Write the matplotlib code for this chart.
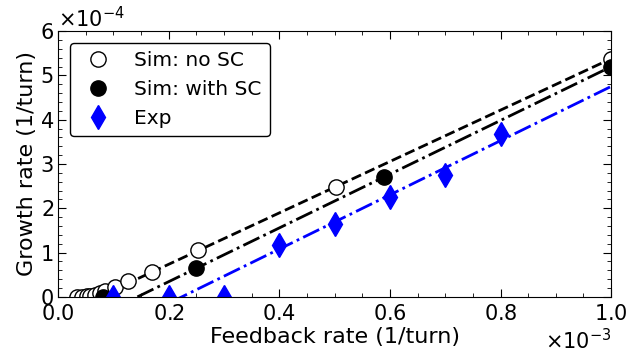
import numpy as np
import matplotlib
matplotlib.use("Agg")
import matplotlib.pyplot as plt
from matplotlib.ticker import MultipleLocator, ScalarFormatter

# Data (feedback rate in 1e-3 /turn, growth rate in 1e-4 /turn)
nosc_x = [0.034, 0.043, 0.052, 0.058, 0.067, 0.076, 0.085, 0.103, 0.127, 0.170, 0.253, 0.503, 1.0]
nosc_y = [0.0, 0.0, 0.01, 0.02, 0.05, 0.08, 0.14, 0.23, 0.35, 0.57, 1.05, 2.48, 5.38]
sc_x = [0.081, 0.25, 0.59, 1.0]
sc_y = [0.0, 0.65, 2.70, 5.20]
exp_x = [0.1, 0.2, 0.3, 0.4, 0.5, 0.6, 0.7, 0.8]
exp_y = [0.0, 0.0, 0.0, 1.17, 1.65, 2.26, 2.75, 3.68]

sx, sy = 1e-3, 1e-4
nosc_x = np.array(nosc_x) * sx; nosc_y = np.array(nosc_y) * sy
sc_x = np.array(sc_x) * sx; sc_y = np.array(sc_y) * sy
exp_x = np.array(exp_x) * sx; exp_y = np.array(exp_y) * sy

fig = plt.figure(figsize=(6.44, 3.53), dpi=100)
ax = fig.add_axes([0.090, 0.159, 0.859, 0.753])

xx = np.linspace(0, 1e-3, 200)
m = nosc_x >= 0.25e-3
p1 = np.polyfit(nosc_x[m], nosc_y[m], 1)
m = sc_y > 0
p2 = np.polyfit(sc_x[m], sc_y[m], 1)
m = exp_y > 0
p3 = np.polyfit(exp_x[m], exp_y[m], 1)
ax.plot(xx, np.polyval(p1, xx), 'k--', lw=2)
ax.plot(xx, np.polyval(p2, xx), 'k-.', lw=2)
ax.plot(xx, np.polyval(p3, xx), '-.', color='#0000ff', lw=2)

ax.plot(nosc_x, nosc_y, 'o', mfc='white', mec='black', ms=11, mew=1, ls='none', label='Sim: no SC')
ax.plot(sc_x, sc_y, 'o', color='black', ms=11, ls='none', label='Sim: with SC')
ax.plot(exp_x, exp_y, 'd', color='#0000ff', ms=12, ls='none', label='Exp')

ax.set_xlim(0, 1e-3)
ax.set_ylim(0, 6e-4)
ax.xaxis.set_major_locator(MultipleLocator(0.2e-3))
ax.xaxis.set_minor_locator(MultipleLocator(0.05e-3))
ax.yaxis.set_major_locator(MultipleLocator(1e-4))
ax.yaxis.set_minor_locator(MultipleLocator(0.2e-4))
for axis in (ax.xaxis, ax.yaxis):
    f = ScalarFormatter(useMathText=True)
    f.set_scientific(True)
    f.set_powerlimits((0, 0))
    axis.set_major_formatter(f)
ax.tick_params(which='both', direction='in', top=True, right=True, labelsize=15)
ax.tick_params(axis='x', which='major', pad=5)
ax.tick_params(axis='y', which='major', pad=3)
ax.tick_params(which='major', length=6)
ax.tick_params(which='minor', length=3)
ax.xaxis.get_offset_text().set_fontsize(15)
ax.yaxis.get_offset_text().set_fontsize(15)
ax.set_xlabel('Feedback rate (1/turn)', fontsize=16, labelpad=2)
ax.set_ylabel('Growth rate (1/turn)', fontsize=16, labelpad=2)
leg = ax.legend(loc='upper left', fontsize=14.5, frameon=True, fancybox=True, framealpha=1,
                borderaxespad=0.6)
leg.get_frame().set_edgecolor('black')

fig.savefig('out.png', dpi=100)
